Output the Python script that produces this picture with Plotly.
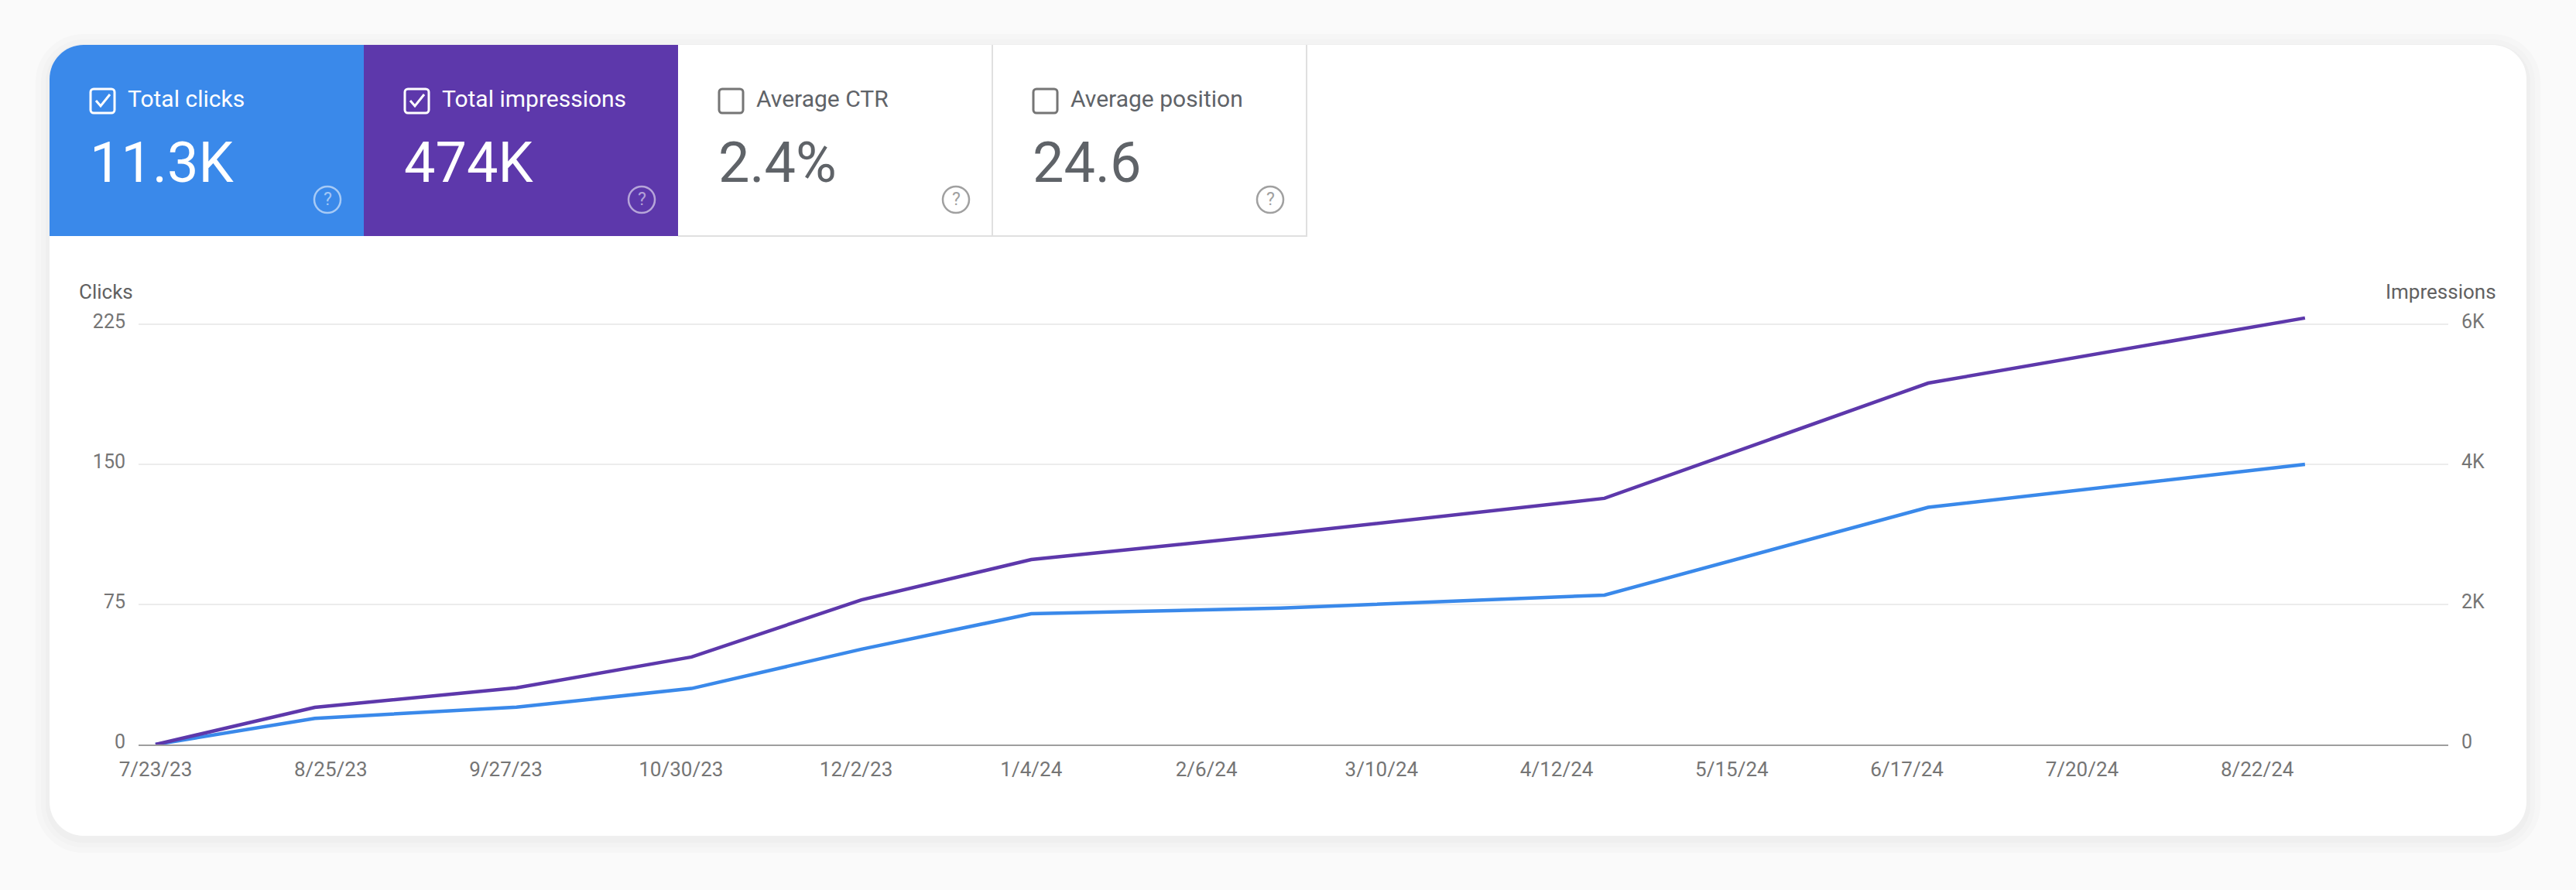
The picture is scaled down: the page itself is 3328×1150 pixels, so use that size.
import plotly.graph_objects as go

# ---------------- data ----------------
dates = ["2023-07-23", "2023-08-22", "2023-09-29", "2023-11-01", "2023-12-03",
         "2024-01-04", "2024-02-20", "2024-04-21", "2024-06-21", "2024-08-31"]
clicks = [0, 14, 20, 30, 51, 70, 73, 80, 127, 150]
impressions = [0, 530, 810, 1250, 2065, 2640, 3005, 3515, 5160, 6090]

tick_dates = ["2023-07-23", "2023-08-25", "2023-09-27", "2023-10-30", "2023-12-02",
              "2024-01-04", "2024-02-06", "2024-03-10", "2024-04-12", "2024-05-15",
              "2024-06-17", "2024-07-20", "2024-08-22"]
tick_labels = ["7/23/23", "8/25/23", "9/27/23", "10/30/23", "12/2/23", "1/4/24",
               "2/6/24", "3/10/24", "4/12/24", "5/15/24", "6/17/24", "7/20/24", "8/22/24"]

clicks_ticks = [0, 75, 150, 225]
impr_ticks = [0, 2000, 4000, 6000]
impr_tick_labels = ["0", "2K", "4K", "6K"]

tile_labels = ["Total clicks", "Total impressions", "Average CTR", "Average position"]
tile_values = ["11.3K", "474K", "2.4%", "24.6"]
tile_checked = [True, True, False, False]

# ---------------- style ----------------
W, H = 3328, 1150
BLUE = "#3a89ea"
PURPLE = "#5d38ab"
GREY_TXT = "#5f6368"
TICK_TXT = "#757575"
FONT = "Roboto"


def X(x):
    return x / W


def Y(y):
    return 1 - y / H


def pt(x, y):
    return f"{X(x):.6f},{Y(y):.6f}"


def rrect(x0, y0, x1, y1, rtl=0, rtr=0, rbr=0, rbl=0):
    k = 0.5523
    p = f"M {pt(x0 + rtl, y0)} L {pt(x1 - rtr, y0)} "
    if rtr:
        p += f"C {pt(x1 - rtr + k * rtr, y0)} {pt(x1, y0 + rtr - k * rtr)} {pt(x1, y0 + rtr)} "
    p += f"L {pt(x1, y1 - rbr)} "
    if rbr:
        p += f"C {pt(x1, y1 - rbr + k * rbr)} {pt(x1 - rbr + k * rbr, y1)} {pt(x1 - rbr, y1)} "
    p += f"L {pt(x0 + rbl, y1)} "
    if rbl:
        p += f"C {pt(x0 + rbl - k * rbl, y1)} {pt(x0, y1 - rbl + k * rbl)} {pt(x0, y1 - rbl)} "
    p += f"L {pt(x0, y0 + rtl)} "
    if rtl:
        p += f"C {pt(x0, y0 + rtl - k * rtl)} {pt(x0 + rtl - k * rtl, y0)} {pt(x0 + rtl, y0)} "
    return p + "Z"


shapes = []
annotations = []

# card shadow + card
CX0, CY0, CX1, CY1, CR = 64, 58, 3264, 1080, 44
for grow, col in [(18, "#f6f6f6"), (11, "#f3f3f3"), (5, "#efefef")]:
    shapes.append(dict(type="path", xref="paper", yref="paper", layer="below",
                       path=rrect(CX0 - grow, CY0 - grow + 4, CX1 + grow, CY1 + grow + 4,
                                  CR + grow, CR + grow, CR + grow, CR + grow),
                       fillcolor=col, line=dict(width=0)))
shapes.append(dict(type="path", xref="paper", yref="paper", layer="below",
                   path=rrect(CX0, CY0, CX1, CY1, CR, CR, CR, CR),
                   fillcolor="white", line=dict(width=0)))

# tiles
tile_x = [64, 470, 876, 1282, 1688]
TY0, TY1 = 58, 305
tile_fill = [BLUE, PURPLE, "white", "white"]
for i in range(4):
    x0, x1 = tile_x[i], tile_x[i + 1]
    shapes.append(dict(type="path", xref="paper", yref="paper", layer="below",
                       path=rrect(x0, TY0, x1, TY1, rtl=CR if i == 0 else 0),
                       fillcolor=tile_fill[i], line=dict(width=0)))
# borders of white tiles
shapes.append(dict(type="line", xref="paper", yref="paper", layer="below",
                   x0=X(876), x1=X(1689), y0=Y(TY1), y1=Y(TY1),
                   line=dict(color="#e0e0e0", width=2)))
for xb in (1282, 1688):
    shapes.append(dict(type="line", xref="paper", yref="paper", layer="below",
                       x0=X(xb), x1=X(xb), y0=Y(TY0), y1=Y(TY1),
                       line=dict(color="#e0e0e0", width=2)))

for i in range(4):
    x0 = tile_x[i]
    on_color = i < 2
    fg = "white" if on_color else GREY_TXT
    cb_col = "white" if on_color else "#757575"
    icon_col = "rgba(255,255,255,0.55)" if on_color else "#a0a0a0"
    # checkbox
    bx0, by0 = x0 + 53, 115
    shapes.append(dict(type="path", xref="paper", yref="paper",
                       path=rrect(bx0, by0, bx0 + 31, by0 + 31, 4, 4, 4, 4),
                       fillcolor="rgba(0,0,0,0)", line=dict(color=cb_col, width=3)))
    if tile_checked[i]:
        shapes.append(dict(type="path", xref="paper", yref="paper",
                           path=f"M {pt(bx0 + 7, by0 + 15)} L {pt(bx0 + 13, by0 + 22)} L {pt(bx0 + 25, by0 + 7)}",
                           line=dict(color=cb_col, width=3)))
    # label
    annotations.append(dict(xref="paper", yref="paper", x=X(x0 + 99), y=Y(127),
                            xanchor="left", yanchor="middle", showarrow=False,
                            text=tile_labels[i],
                            font=dict(family=FONT, size=30, color=fg)))
    # value
    annotations.append(dict(xref="paper", yref="paper", x=X(x0 + 50), y=Y(210),
                            xanchor="left", yanchor="middle", showarrow=False,
                            text=tile_values[i],
                            font=dict(family=FONT, size=72, color=fg)))
    # help icon
    icx, icy, r = x0 + 359, 258, 17
    shapes.append(dict(type="circle", xref="paper", yref="paper",
                       x0=X(icx - r), x1=X(icx + r), y0=Y(icy + r), y1=Y(icy - r),
                       fillcolor="rgba(0,0,0,0)", line=dict(color=icon_col, width=2.5)))
    annotations.append(dict(xref="paper", yref="paper", x=X(icx), y=Y(icy),
                            xanchor="center", yanchor="middle", showarrow=False,
                            text="?", font=dict(family=FONT, size=23, color=icon_col)))

# axis titles
annotations.append(dict(xref="paper", yref="paper", x=X(100), y=Y(377),
                        xanchor="left", yanchor="middle", showarrow=False, text="Clicks",
                        font=dict(family=FONT, size=26, color="#616161")))
annotations.append(dict(xref="paper", yref="paper", x=X(3227), y=Y(377),
                        xanchor="right", yanchor="middle", showarrow=False, text="Impressions",
                        font=dict(family=FONT, size=26, color="#616161")))

# ---------------- figure ----------------
fig = go.Figure()
fig.add_trace(go.Scatter(x=dates, y=clicks, mode="lines", name="Clicks",
                         line=dict(color=BLUE, width=4.5), yaxis="y"))
fig.add_trace(go.Scatter(x=dates, y=impressions, mode="lines", name="Impressions",
                         line=dict(color=PURPLE, width=4.5), yaxis="y2"))

PX0, PX1 = 179, 3163
Y0PX, Y225PX = 962, 419
ppu = (Y0PX - Y225PX) / 225.0
ctop = 232.0
top_px = Y0PX - ctop * ppu

fig.update_layout(
    width=W, height=H,
    margin=dict(l=0, r=0, t=0, b=0, pad=0, autoexpand=False),
    paper_bgcolor="#fafafa",
    plot_bgcolor="rgba(0,0,0,0)",
    showlegend=False,
    shapes=shapes,
    annotations=annotations,
    xaxis=dict(domain=[X(PX0), X(PX1)], type="date", automargin=False,
               range=["2023-07-19 19:00", "2024-09-27 00:00"],
               tickvals=tick_dates, ticktext=tick_labels,
               showgrid=False, zeroline=False,
               showline=True, linecolor="#9e9e9e", linewidth=2,
               ticks="", ticklabelstandoff=8,
               tickfont=dict(family=FONT, size=26, color=TICK_TXT)),
    yaxis=dict(domain=[Y(Y0PX), Y(top_px)], range=[0, ctop], automargin=False,
               tickvals=clicks_ticks, ticktext=[str(v) for v in clicks_ticks],
               showgrid=True, gridcolor="#ececec", gridwidth=2,
               zeroline=False, showline=False, ticks="", ticklabelstandoff=16,
               ticklabelshift=-4,
               tickfont=dict(family=FONT, size=25, color=TICK_TXT)),
    yaxis2=dict(domain=[Y(Y0PX), Y(top_px)], range=[0, ctop / 225.0 * 6000],
                overlaying="y", side="right", automargin=False,
                tickvals=impr_ticks, ticktext=impr_tick_labels,
                showgrid=False, zeroline=False, showline=False, ticks="",
                ticklabelstandoff=16, ticklabelshift=-4,
                tickfont=dict(family=FONT, size=25, color=TICK_TXT)),
)

fig.write_html("out.html", config={"displayModeBar": False},
               post_script="document.body.style.margin='0';document.body.style.overflow='hidden';")
